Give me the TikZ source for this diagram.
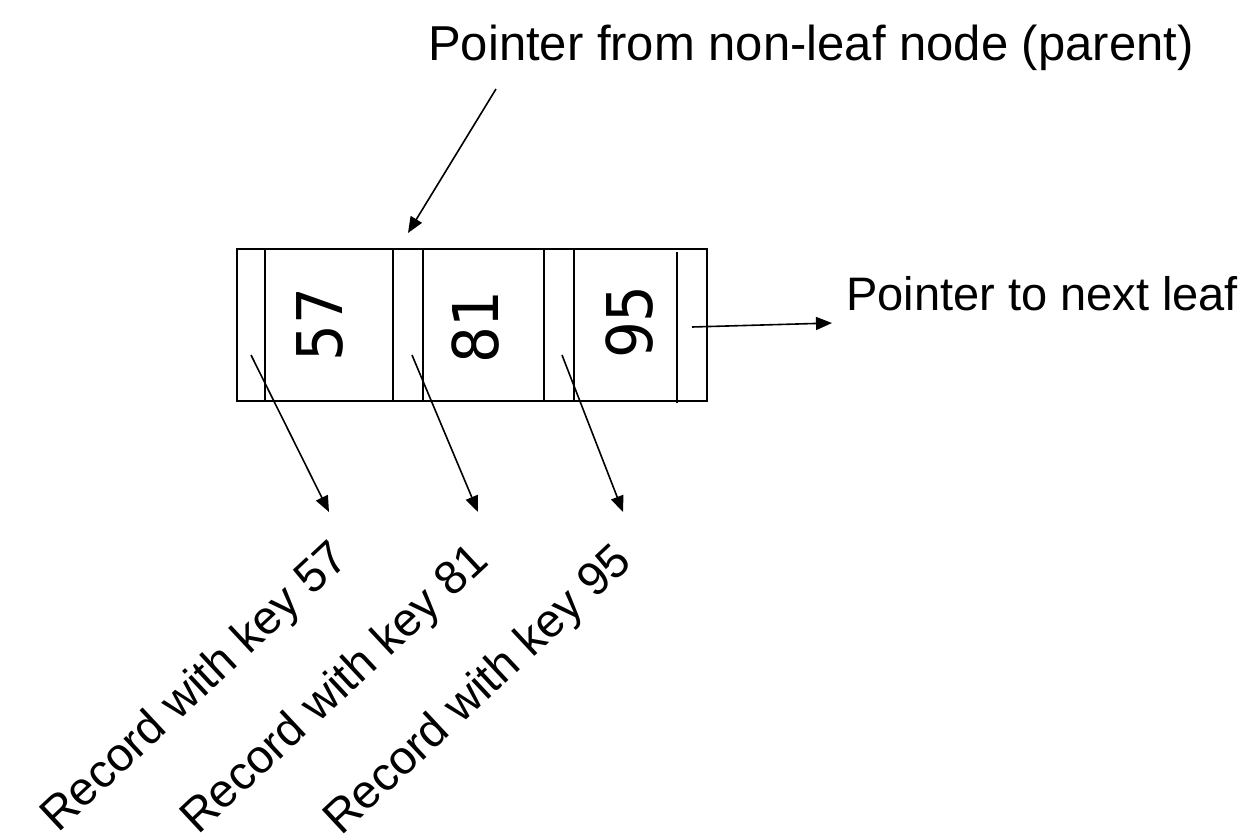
\documentclass[tikz,border=0pt]{standalone}
\usepackage{fontspec}
\setmainfont{Liberation Sans}
\newfontfamily\numfont{DejaVu Sans}
\usetikzlibrary{arrows.meta}
\tikzset{
  ln/.style={line width=1.6pt},
  arr/.style={line width=1.6pt, -{Triangle[length=16pt,width=13pt]}},
  lbl/.style={font=\fontsize{47}{52}\selectfont, inner sep=0pt},
  rec/.style={font=\fontsize{47}{52}\selectfont, inner sep=0pt, anchor=base west, rotate=43},
  num/.style={font=\numfont\fontsize{58}{62}\selectfont, inner sep=0pt, anchor=base, xscale=1.087, rotate=90}
}
\begin{document}
\begin{tikzpicture}[x=1pt,y=-1pt]
\useasboundingbox (0,0) rectangle (1256,835);
% leaf box
\node (leaf) [ln, draw, minimum width=470pt, minimum height=152pt, inner sep=0pt] at (472,325) {};
\draw[ln] (265,249) -- (265,401);
\draw[ln] (393,249) -- (393,401);
\draw[ln] (423,249) -- (423,401);
\draw[ln] (544,249) -- (544,401);
\draw[ln] (574,249) -- (574,401);
\draw[ln] (677,252) -- (677,403);
% keys
\node (k57) [num] at (342,324.5) {57};
\node (k81) [num] at (498,327) {81};
\node (k95) [num] at (652,322) {95};
% texts
\node (ptext) [lbl, font=\fontsize{49}{54}\selectfont, anchor=base west] at (428,60) {Pointer from non-leaf node (parent)};
\node (ntext) [lbl, anchor=base west] at (846,310) {Pointer to next leaf};
\node (r1) [rec] at (58,834) {Record with key 57};
\node (r2) [rec] at (198,836) {Record with key 81};
\node (r3) [rec] at (341,837) {Record with key 95};
% pointer coordinates
\coordinate (ps) at (496,89);
\coordinate (pt) at (408,233);
\coordinate (ns) at (692,327);
\coordinate (nt) at (832,323);
\coordinate (a1) at (251,355);
\coordinate (b1) at (329,512);
\coordinate (a2) at (412,355);
\coordinate (b2) at (478,512);
\coordinate (a3) at (562,355);
\coordinate (b3) at (623,512);
\draw[arr] (ps) -- (pt);
\draw[arr] (ns) -- (nt);
\draw[arr] (a1) -- (b1);
\draw[arr] (a2) -- (b2);
\draw[arr] (a3) -- (b3);
\end{tikzpicture}
\end{document}
